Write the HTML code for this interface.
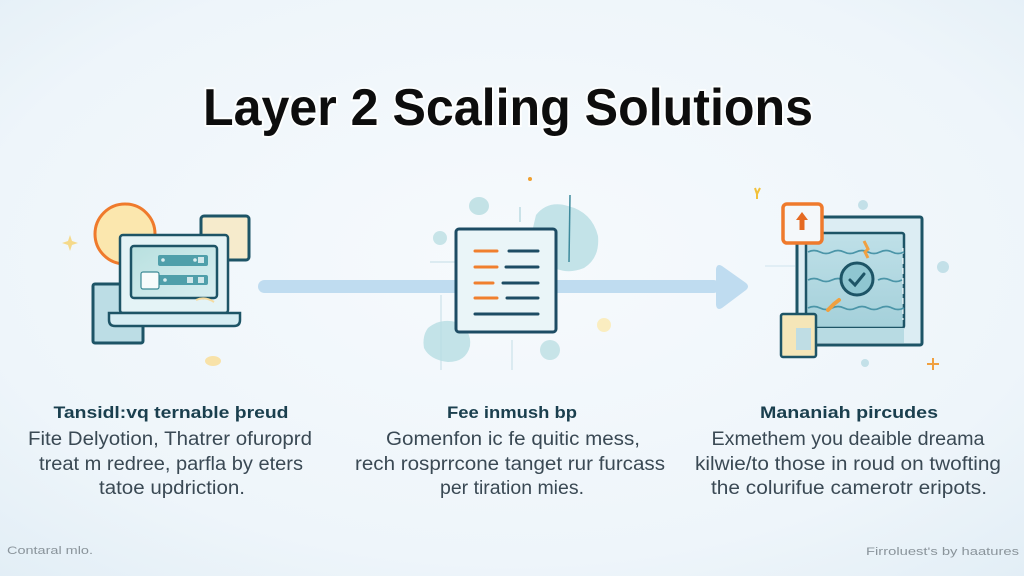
<!DOCTYPE html>
<html><head><meta charset="utf-8"><style>
html,body{margin:0;padding:0;width:1024px;height:576px;overflow:hidden;background:#eef5fa}
svg{display:block}
</style></head><body>
<svg width="1024" height="576" viewBox="0 0 1024 576" xmlns="http://www.w3.org/2000/svg">
<defs>
<radialGradient id="bg" cx="50%" cy="45%" r="75%">
<stop offset="0" stop-color="#f6fafd"/><stop offset="0.7" stop-color="#eef5fa"/><stop offset="1" stop-color="#e2eef6"/>
</radialGradient>
<linearGradient id="scr" x1="0" y1="0" x2="1" y2="1">
<stop offset="0" stop-color="#b8e0df"/><stop offset="1" stop-color="#d8eef1"/>
</linearGradient>
<linearGradient id="inner" x1="0" y1="0" x2="0" y2="1">
<stop offset="0" stop-color="#bfe0e8"/><stop offset="1" stop-color="#a4d0da"/>
</linearGradient>
</defs>
<rect width="1024" height="576" fill="url(#bg)"/>

<!-- Title -->
<text x="203" y="125" font-family="Liberation Sans, sans-serif" font-weight="bold" font-size="52" fill="none" stroke="#ffffff" stroke-width="4" stroke-opacity="0.8" textLength="610" lengthAdjust="spacingAndGlyphs">Layer 2 Scaling Solutions</text>
<text x="203" y="125" font-family="Liberation Sans, sans-serif" font-weight="bold" font-size="52" fill="#0d0d0d" textLength="610" lengthAdjust="spacingAndGlyphs">Layer 2 Scaling Solutions</text>

<!-- Arrow -->
<rect x="258" y="280" width="462" height="13" rx="6.5" fill="#bfdcf0"/>
<path d="M716 269 Q717 263 722 266 L746 283 Q750 286.5 746 290 L722 308 Q717 311 716 305 Z" fill="#bfdcf0"/>

<!-- Left icon -->
<path d="M70 235 L72 241 L78 243 L72 245 L70 251 L68 245 L62 243 L68 241 Z" fill="#f5d98a"/>
<circle cx="125" cy="234" r="30" fill="#fbe7ae" stroke="#ef7a2c" stroke-width="3"/>
<rect x="201" y="216" width="48" height="44" rx="3" fill="#f6ebcc" stroke="#1d5466" stroke-width="3"/>
<rect x="93" y="284" width="50" height="59" rx="2" fill="#bcdde5" stroke="#1d5466" stroke-width="3"/>
<rect x="120" y="235" width="108" height="78" rx="3" fill="#e4f3f6" stroke="#1d5466" stroke-width="2.5"/>
<rect x="131" y="246" width="86" height="52" rx="3" fill="url(#scr)" stroke="#1d5466" stroke-width="2.5"/>
<rect x="158" y="255" width="50" height="11" rx="2" fill="#4f9faa"/>
<rect x="158" y="275" width="50" height="10" rx="2" fill="#4f9faa"/>
<rect x="141" y="272" width="18" height="17" rx="2" fill="#f7fbfb" stroke="#3d8a95" stroke-width="1.2"/>
<circle cx="163" cy="260" r="1.8" fill="#d9eef0"/><circle cx="195" cy="260" r="1.8" fill="#d9eef0"/><rect x="198" y="257" width="6" height="6" fill="#cfe7ea"/>
<circle cx="165" cy="280" r="1.8" fill="#d9eef0"/><rect x="187" y="277" width="6" height="6" fill="#cfe7ea"/><rect x="198" y="277" width="6" height="6" fill="#cfe7ea"/>
<path d="M109 313 L240 313 L240 320 Q240 326 234 326 L115 326 Q109 326 109 320 Z" fill="#d6edf3" stroke="#1d5466" stroke-width="2.5"/>
<ellipse cx="213" cy="361" rx="8" ry="5" fill="#f8e2a8"/>
<path d="M196 300 Q205 296 214 302" stroke="#f5dba0" stroke-width="2" fill="none"/>

<!-- Middle decorations -->
<path d="M536 215 Q548 200 568 206 Q592 212 598 236 Q600 258 584 268 Q564 276 548 264 Q530 250 532 232 Z" fill="#b6dde2" opacity="0.8"/>
<line x1="570" y1="195" x2="569" y2="262" stroke="#3d8a9c" stroke-width="1.5"/>
<ellipse cx="479" cy="206" rx="10" ry="9" fill="#c3e2e6"/>
<circle cx="440" cy="238" r="7" fill="#c7e4e8"/>
<line x1="520" y1="207" x2="520" y2="222" stroke="#9fcbd4" stroke-width="1"/>
<line x1="430" y1="262" x2="455" y2="262" stroke="#c3dde6" stroke-width="1"/>
<line x1="441" y1="295" x2="441" y2="370" stroke="#c3dde6" stroke-width="1"/>
<path d="M428 328 Q440 318 456 322 Q472 330 470 346 Q466 362 448 362 Q430 360 424 348 Q422 336 428 328 Z" fill="#b6dde2" opacity="0.8"/>
<circle cx="550" cy="350" r="10" fill="#c7e4e8"/>
<line x1="512" y1="340" x2="512" y2="370" stroke="#c3dde6" stroke-width="1"/>
<circle cx="604" cy="325" r="7" fill="#faedc0"/>
<circle cx="530" cy="179" r="2" fill="#f0a030"/>
<path d="M755 188 L757 194 L760 188 M757 194 L757 199" stroke="#f2c13a" stroke-width="2" fill="none"/>

<!-- Document -->
<rect x="456" y="229" width="100" height="103" rx="3" fill="#eaf5f8" stroke="#1d4c64" stroke-width="3"/>
<g stroke-linecap="round" stroke-width="3">
<line x1="475" y1="251" x2="497" y2="251" stroke="#f07f2e"/>
<line x1="509" y1="251" x2="538" y2="251" stroke="#1d4c64"/>
<line x1="475" y1="267" x2="497" y2="267" stroke="#f07f2e"/>
<line x1="506" y1="267" x2="538" y2="267" stroke="#1d4c64"/>
<line x1="475" y1="283" x2="493" y2="283" stroke="#f07f2e"/>
<line x1="503" y1="283" x2="538" y2="283" stroke="#1d4c64"/>
<line x1="475" y1="298" x2="497" y2="298" stroke="#f07f2e"/>
<line x1="507" y1="298" x2="538" y2="298" stroke="#1d4c64"/>
<line x1="475" y1="314" x2="538" y2="314" stroke="#1d4c64"/>
</g>

<!-- Right icon -->
<circle cx="863" cy="205" r="5" fill="#c3e0e8"/>
<circle cx="943" cy="267" r="6" fill="#c3e0e8"/>
<circle cx="865" cy="363" r="4" fill="#c3e0e8"/>
<path d="M933 358 L933 370 M927 364 L939 364" stroke="#f0a040" stroke-width="2"/>
<line x1="765" y1="266" x2="795" y2="266" stroke="#d0e4ee" stroke-width="1"/>
<rect x="797" y="217" width="125" height="128" rx="2" fill="#dcedf3" stroke="#1d5466" stroke-width="3"/>
<rect x="806" y="233" width="98" height="95" rx="2" fill="url(#inner)" stroke="#1d5466" stroke-width="2.5"/>
<rect x="806" y="328" width="98" height="15" fill="#b8dbe3"/>
<line x1="903" y1="248" x2="903" y2="320" stroke="#ffffff" stroke-width="1" stroke-dasharray="6 4"/>
<g stroke="#4b95a8" stroke-width="1.8" fill="none">
<path d="M808 252 q6 -3 12 0 t12 0 t12 0 t12 0 t12 0 t12 0 t12 0 t12 0"/>
<path d="M808 280 q6 -3 12 0 t12 0 t12 0 M878 280 q6 -3 12 0 t12 0"/>
<path d="M808 308 q6 -3 12 0 t12 0 t12 0 t12 0 t12 0 t12 0 t12 0 t12 0"/>
</g>
<circle cx="857" cy="279" r="16" fill="#8fc6d1" stroke="#1d5466" stroke-width="3"/>
<path d="M850 280 L855 285 L864 274" stroke="#1d5466" stroke-width="3" fill="none" stroke-linecap="round"/>
<path d="M864 241 l4 8 l-3 3 l3 6" stroke="#f0a040" stroke-width="3" fill="none"/>
<path d="M828 310 l6 -6 l5 -4" stroke="#f0a040" stroke-width="4" fill="none" stroke-linecap="round"/>
<rect x="781" y="314" width="35" height="43" rx="2" fill="#f5e6b8" stroke="#1d5466" stroke-width="2.5"/>
<rect x="796" y="328" width="15" height="22" fill="#bfdde4"/>
<rect x="783" y="204" width="39" height="39" rx="4" fill="#f4f8fa" stroke="#ef7a2c" stroke-width="3.5"/>
<path d="M802 212 L808 220 L804.5 220 L804.5 230 L799.5 230 L799.5 220 L796 220 Z" fill="#e56a22"/>

<!-- Column texts -->
<g font-family="Liberation Sans, sans-serif" text-anchor="middle">
<text x="171" y="418" font-size="17" font-weight="bold" fill="#1a3f4e" textLength="235" lengthAdjust="spacingAndGlyphs">Tansidl:vq ternable þreud</text>
<text x="170" y="445" font-size="19" fill="#3a4954" textLength="284" lengthAdjust="spacingAndGlyphs">Fite Delyotion, Thatrer ofuroprd</text>
<text x="171" y="470" font-size="19" fill="#3a4954" textLength="264" lengthAdjust="spacingAndGlyphs">treat m redree, parfla by eters</text>
<text x="172" y="494" font-size="19" fill="#3a4954" textLength="146" lengthAdjust="spacingAndGlyphs">tatoe updriction.</text>

<text x="512" y="418" font-size="17" font-weight="bold" fill="#1a3f4e" textLength="130" lengthAdjust="spacingAndGlyphs">Fee inmush bp</text>
<text x="513" y="445" font-size="19" fill="#3a4954" textLength="254" lengthAdjust="spacingAndGlyphs">Gomenfon ic fe quitic mess,</text>
<text x="510" y="470" font-size="19" fill="#3a4954" textLength="310" lengthAdjust="spacingAndGlyphs">rech rosprrcone tanget rur furcass</text>
<text x="512" y="494" font-size="19" fill="#3a4954" textLength="144" lengthAdjust="spacingAndGlyphs">per tiration mies.</text>

<text x="849" y="418" font-size="17" font-weight="bold" fill="#1a3f4e" textLength="178" lengthAdjust="spacingAndGlyphs">Mananiah pircudes</text>
<text x="848" y="445" font-size="19" fill="#3a4954" textLength="273" lengthAdjust="spacingAndGlyphs">Exmethem you deaible dreama</text>
<text x="848" y="470" font-size="19" fill="#3a4954" textLength="306" lengthAdjust="spacingAndGlyphs">kilwie/to those in roud on twofting</text>
<text x="849" y="494" font-size="19" fill="#3a4954" textLength="276" lengthAdjust="spacingAndGlyphs">the colurifue camerotr eripots.</text>
</g>

<text x="7" y="554" font-family="Liberation Sans, sans-serif" font-size="11" fill="#8a949b" textLength="86" lengthAdjust="spacingAndGlyphs">Contaral mlo.</text>
<text x="866" y="555" font-family="Liberation Sans, sans-serif" font-size="11" fill="#8a949b" textLength="153" lengthAdjust="spacingAndGlyphs">Firroluest's by haatures</text>
</svg>
</body></html>
